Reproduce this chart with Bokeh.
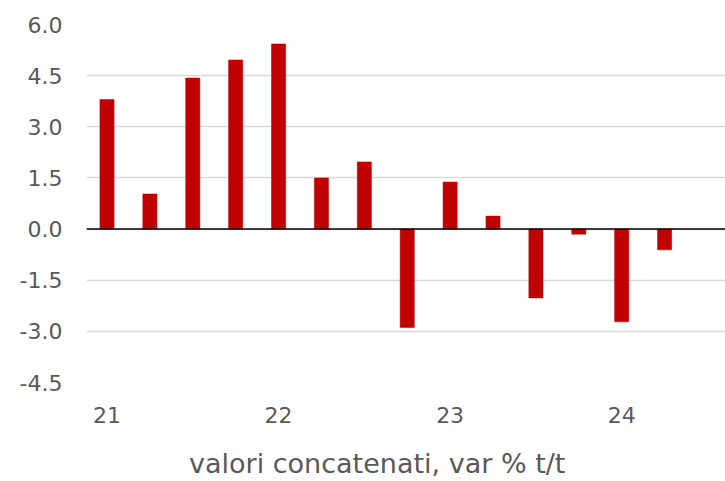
from bokeh.plotting import figure
from bokeh.models import FixedTicker, Span, LinearAxis, Range1d, PrintfTickFormatter, ColumnDataSource
from bokeh.embed import file_html
from bokeh.resources import INLINE

quarters = ["21Q1", "21Q2", "21Q3", "21Q4", "22Q1", "22Q2", "22Q3", "22Q4",
            "23Q1", "23Q2", "23Q3", "23Q4", "24Q1", "24Q2"]
values = [3.8, 1.03, 4.43, 4.96, 5.43, 1.5, 1.97, -2.89, 1.38, 0.38, -2.02, -0.15, -2.72, -0.61]
year_labels = ["21", "22", "23", "24"]
y_ticks = [-4.5, -3.0, -1.5, 0.0, 1.5, 3.0, 4.5, 6.0]
axis_title = "valori concatenati, var % t/t"

xs = list(range(len(quarters)))
src = ColumnDataSource(dict(x=xs, top=values, q=quarters))

FONT = "DejaVu Sans"
GREY = "#595959"

p = figure(width=725, height=481, output_backend="svg", toolbar_location=None,
           x_range=Range1d(-0.478, 14.42), y_range=Range1d(-4.5, 6.0),
           min_border_left=86, min_border_right=0, min_border_top=24, min_border_bottom=0)
p.outline_line_color = None
p.background_fill_color = "white"
p.border_fill_color = "white"

p.vbar(x="x", top="top", bottom=0, width=0.33, source=src,
       fill_color="#C00000", line_color="#C00000", line_width=0.5)

p.add_layout(Span(location=0, dimension="width", line_color="black", line_width=1.5))


def clean(ax):
    ax.axis_line_color = None
    ax.major_tick_line_color = None
    ax.minor_tick_line_color = None
    ax.major_tick_out = 0
    ax.major_tick_in = 0
    ax.minor_tick_out = 0
    ax.minor_tick_in = 0
    ax.major_label_text_font = FONT
    ax.major_label_text_color = GREY


# y axis
p.yaxis.ticker = FixedTicker(ticks=y_ticks)
p.yaxis.formatter = PrintfTickFormatter(format="%.1f")
clean(p.yaxis[0])
p.yaxis.major_label_standoff = 24
p.yaxis.major_label_text_font_size = "22px"

# x axis (years)
year_pos = [xs[i] for i, q in enumerate(quarters) if q.endswith("Q1")]
p.xaxis.ticker = FixedTicker(ticks=year_pos)
p.xaxis.major_label_overrides = {pos: lab for pos, lab in zip(year_pos, year_labels)}
clean(p.xaxis[0])
p.xaxis.major_label_standoff = 24
p.xaxis.major_label_text_font_size = "22px"

# axis title, as a second axis below (offset to the left like the original)
title_x = 6.3
ax2 = LinearAxis(ticker=FixedTicker(ticks=[title_x]),
                 major_label_overrides={title_x: axis_title})
clean(ax2)
ax2.major_label_standoff = 22
ax2.major_label_text_font_size = "27px"
p.add_layout(ax2, "below")

p.xgrid.grid_line_color = None
p.ygrid.grid_line_color = "#d9d9d9"
p.ygrid.grid_line_width = 1.5

open("out.html", "w").write(file_html(p, INLINE))
